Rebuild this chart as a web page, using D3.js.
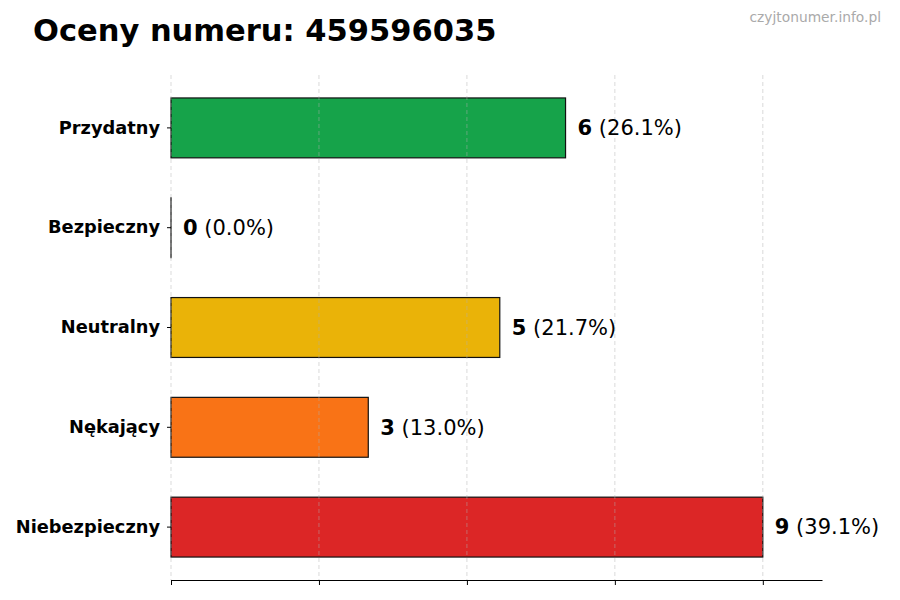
<!DOCTYPE html>
<html>
<head>
<meta charset="utf-8">
<script src="https://cdn.jsdelivr.net/npm/d3@7"></script>
<style>
  body { margin: 0; background: #fff; }
  svg { font-family: "DejaVu Sans", sans-serif; }
</style>
</head>
<body>
<svg id="chart"></svg>
<script>
// data
const categories = ["Przydatny", "Bezpieczny", "Neutralny", "Nękający", "Niebezpieczny"];
const counts = [6, 0, 5, 3, 9];
const barColors = ["#16a34a", "#16a34a", "#eab308", "#f97316", "#dc2626"];
const xTicks = [0, 2.25, 4.5, 6.75, 9];

const width = 900, height = 600;
const margin = {top: 75, right: 78, bottom: 20, left: 171};
const total = d3.sum(counts);

const svg = d3.select("#chart")
  .attr("width", width)
  .attr("height", height);

// scales
const x = d3.scaleLinear()
  .domain([0, d3.max(counts) * 1.1])
  .range([margin.left, width - margin.right]);

const y = d3.scaleBand()
  .domain(categories)
  .range([margin.top, height - margin.bottom])
  .paddingInner(0.4)
  .paddingOuter(0.23);

// title + watermark
svg.append("text")
  .attr("x", 33).attr("y", 41)
  .attr("font-size", 30.5).attr("font-weight", "bold")
  .text("Oceny numeru: 459596035");

svg.append("text")
  .attr("x", 881).attr("y", 22)
  .attr("text-anchor", "end")
  .attr("font-size", 13.8).attr("fill", "#aaaaaa")
  .text("czyjtonumer.info.pl");

// bars (zero bar kept as a hairline, like the original)
svg.selectAll("rect.bar")
  .data(counts)
  .enter()
  .append("rect")
  .attr("class", "bar")
  .attr("x", x(0))
  .attr("y", (d, i) => y(categories[i]))
  .attr("width", d => Math.max(x(d) - x(0), 0.01))
  .attr("height", y.bandwidth())
  .attr("fill", (d, i) => barColors[i])
  .attr("stroke", "#111")
  .attr("stroke-width", 1.2);

// vertical grid, light and dashed, over the bars like the original
svg.append("g")
  .selectAll("line")
  .data(xTicks)
  .enter()
  .append("line")
  .attr("x1", d => x(d)).attr("x2", d => x(d))
  .attr("y1", margin.top).attr("y2", height - margin.bottom)
  .attr("stroke", "#b0b0b0")
  .attr("stroke-opacity", 0.6)
  .attr("stroke-dasharray", "4,3")
  .attr("stroke-width", 0.8);

// bottom axis: ticks without labels
const xAxis = svg.append("g")
  .attr("transform", `translate(0,${height - margin.bottom})`)
  .call(d3.axisBottom(x).tickValues(xTicks).tickSize(5).tickFormat("").tickSizeOuter(0));
xAxis.select(".domain").attr("stroke", "#000").attr("stroke-width", 1.2);
xAxis.selectAll(".tick line").attr("stroke", "#000");

// left axis: labels + small ticks, no spine
const yAxis = svg.append("g")
  .attr("transform", `translate(${margin.left},0)`)
  .call(d3.axisLeft(y).tickSize(4).tickPadding(7));
yAxis.select(".domain").remove();
yAxis.selectAll(".tick text")
  .attr("font-size", 17.8)
  .attr("font-weight", "bold")
  .attr("font-family", "DejaVu Sans, sans-serif")
  .attr("fill", "#000");
yAxis.selectAll(".tick line").attr("stroke", "#000");

// value labels
const labels = svg.selectAll("text.val")
  .data(counts)
  .enter()
  .append("text")
  .attr("class", "val")
  .attr("x", d => x(d) + 12)
  .attr("y", (d, i) => y(categories[i]) + y.bandwidth() / 2)
  .attr("dy", "0.35em")
  .attr("font-size", 21);

labels.append("tspan")
  .attr("font-weight", "bold")
  .text(d => d);
labels.append("tspan")
  .text(d => " (" + (d / total * 100).toFixed(1) + "%)");
</script>
</body>
</html>
